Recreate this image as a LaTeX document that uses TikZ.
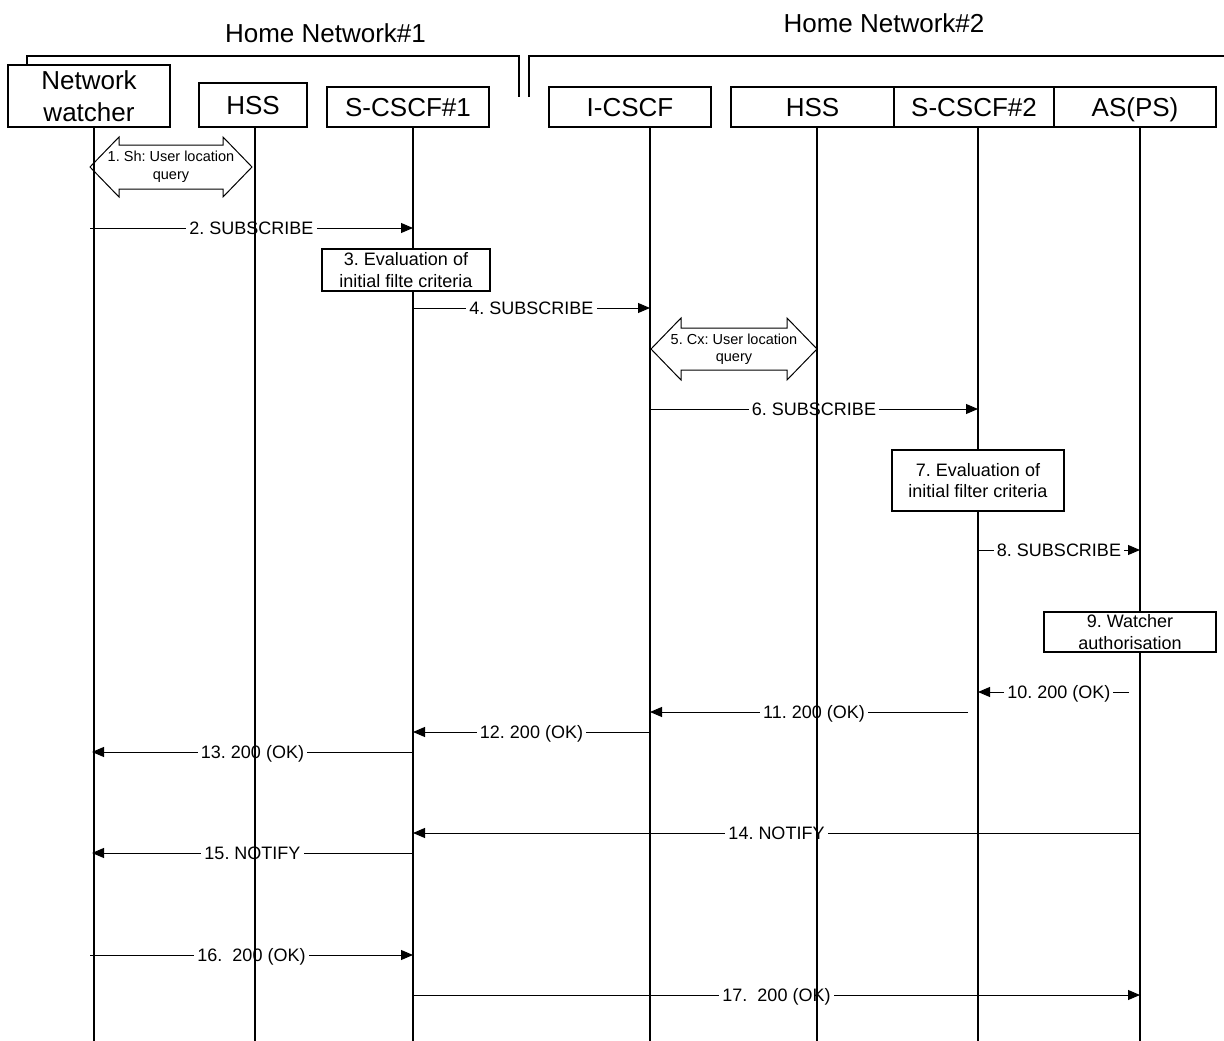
\documentclass[tikz,border=0pt]{standalone}
\usepackage{fontspec}
\setmainfont{Liberation Sans}
\usetikzlibrary{arrows.meta,calc}
\begin{document}
\frenchspacing
\begin{tikzpicture}[x=1pt,y=-1pt,
  hdr/.style={font=\fontsize{26}{32}\selectfont,inner sep=0pt},
  ent/.style={draw,line width=1.2pt,fill=white,inner sep=0pt,font=\fontsize{26}{32}\selectfont,align=center},
  ent1/.style={ent,text height=18.6pt,text depth=0pt},
  life/.style={line width=1.2pt},
  msg/.style={line width=0.9pt,-{Triangle[length=12pt,width=10pt]}},
  lbl/.style={fill=white,font=\fontsize{18}{21}\selectfont,inner xsep=3pt,inner ysep=1pt,text height=13pt,text depth=0pt},
  act/.style={draw,line width=1.2pt,fill=white,align=center,font=\fontsize{18}{21.5}\selectfont,inner sep=0pt},
  dbl/.style={draw,line width=1pt},
  dtxt/.style={font=\fontsize{14.5}{17.5}\selectfont,align=center,inner sep=0pt},
  brk/.style={line width=1.2pt}
]
\useasboundingbox (0,0) rectangle (1224,1041);

% headers
\node[hdr] (hn1) at (325.5,33.5) {Home Network\#1};
\node[hdr] (hn2) at (884,23.5) {Home Network\#2};
\draw[brk] (27,65) -- (27,56) -- (519,56) -- (519,97);
\draw[brk] (529,97) -- (529,56) -- (1224,56);

% entities
\node[ent,minimum width=162pt,minimum height=62pt] (nw) at (89,96) {Network\\watcher};
\node[ent1,minimum width=108pt,minimum height=44pt] (hss1) at (253,105) {HSS};
\node[ent1,minimum width=162pt,minimum height=40pt] (sc1) at (408,107) {S-CSCF\#1};
\node[ent1,minimum width=162pt,minimum height=40pt] (ic) at (630,107) {I-CSCF};
\node[ent1,minimum width=163pt,minimum height=40pt] (hss2) at (812.5,107) {HSS};
\node[ent1,minimum width=160pt,minimum height=40pt] (sc2) at (974,107) {S-CSCF\#2};
\node[ent1,minimum width=162pt,minimum height=40pt] (as) at (1135,107) {AS(PS)};

% lifeline tops
\coordinate (lNW) at (94,127);
\coordinate (lH1) at (255,127);
\coordinate (lS1) at (413,127);
\coordinate (lIC) at (650,127);
\coordinate (lH2) at (817,127);
\coordinate (lS2) at (978,127);
\coordinate (lAS) at (1140,127);
\coordinate (bottom) at (0,1041);

% messages
\draw[msg] ($(lNW |- 0,228)+(-4,0)$) -- node[lbl]{2. SUBSCRIBE} (lS1 |- 0,228);
\draw[msg] (lS1 |- 0,308) -- node[lbl]{4. SUBSCRIBE} (lIC |- 0,308);
\draw[msg] (lIC |- 0,409) -- node[lbl]{6. SUBSCRIBE} (lS2 |- 0,409);
\draw[msg] (lS2 |- 0,550) -- node[lbl]{8. SUBSCRIBE} (lAS |- 0,550);
\draw[msg] ($(lAS |- 0,692)+(-11,0)$) -- node[lbl,pos=0.464]{10. 200 (OK)} (lS2 |- 0,692);
\draw[msg] ($(lS2 |- 0,712)+(-10,0)$) -- node[lbl,pos=0.484]{11. 200 (OK)} (lIC |- 0,712);
\draw[msg] (lIC |- 0,732) -- node[lbl]{12. 200 (OK)} (lS1 |- 0,732);
\draw[msg] (lS1 |- 0,752) -- node[lbl]{13. 200 (OK)} ($(lNW |- 0,752)+(-2,0)$);
\draw[msg] (lAS |- 0,833) -- node[lbl]{14. NOTIFY} (lS1 |- 0,833);
\draw[msg] (lS1 |- 0,853) -- node[lbl]{15. NOTIFY} ($(lNW |- 0,853)+(-2,0)$);
\draw[msg] ($(lNW |- 0,955)+(-4,0)$) -- node[lbl]{16.\ \ 200 (OK)} (lS1 |- 0,955);
\draw[msg] (lS1 |- 0,995) -- node[lbl]{17.\ \ 200 (OK)} (lAS |- 0,995);

% lifelines
\foreach \c in {lNW,lH1,lS1,lIC,lH2,lS2,lAS} \draw[life] (\c) -- (\c |- bottom);

% double arrows
\coordinate (shL) at ($(lNW |- 0,167)+(-4,0)$);
\coordinate (shR) at ($(lH1 |- 0,167)+(-3,0)$);
\draw[dbl] (shL) -- ++(29,-30) -- ++(0,8) -- ($(shR)+(-29,-22)$) -- ++(0,-8) -- (shR)
  -- ++(-29,30) -- ++(0,-8) -- ($(shL)+(29,22)$) -- ++(0,8) -- cycle;
\node[dtxt] (shT) at ($(shL)!0.5!(shR)$) {1. Sh: User location\\query};

\coordinate (cxL) at ($(lIC |- 0,349)+(1,0)$);
\coordinate (cxR) at (lH2 |- 0,349);
\draw[dbl] (cxL) -- ++(30,-31) -- ++(0,10) -- ($(cxR)+(-30,-21)$) -- ++(0,-10) -- (cxR)
  -- ++(-30,31) -- ++(0,-10) -- ($(cxL)+(30,21)$) -- ++(0,10) -- cycle;
\node[dtxt] (cxT) at ($(cxL)!0.5!(cxR)$) {5. Cx: User location\\query};

% action boxes
\node[act,minimum width=168pt,minimum height=42pt] (ev1) at (406,270) {3. Evaluation of\\initial filte criteria};
\node[act,minimum width=172pt,minimum height=61pt] (ev2) at (978,480.5) {7. Evaluation of\\initial filter criteria};
\node[act,minimum width=172pt,minimum height=40pt] (wa) at (1130,632) {9. Watcher\\authorisation};
\end{tikzpicture}
\end{document}
